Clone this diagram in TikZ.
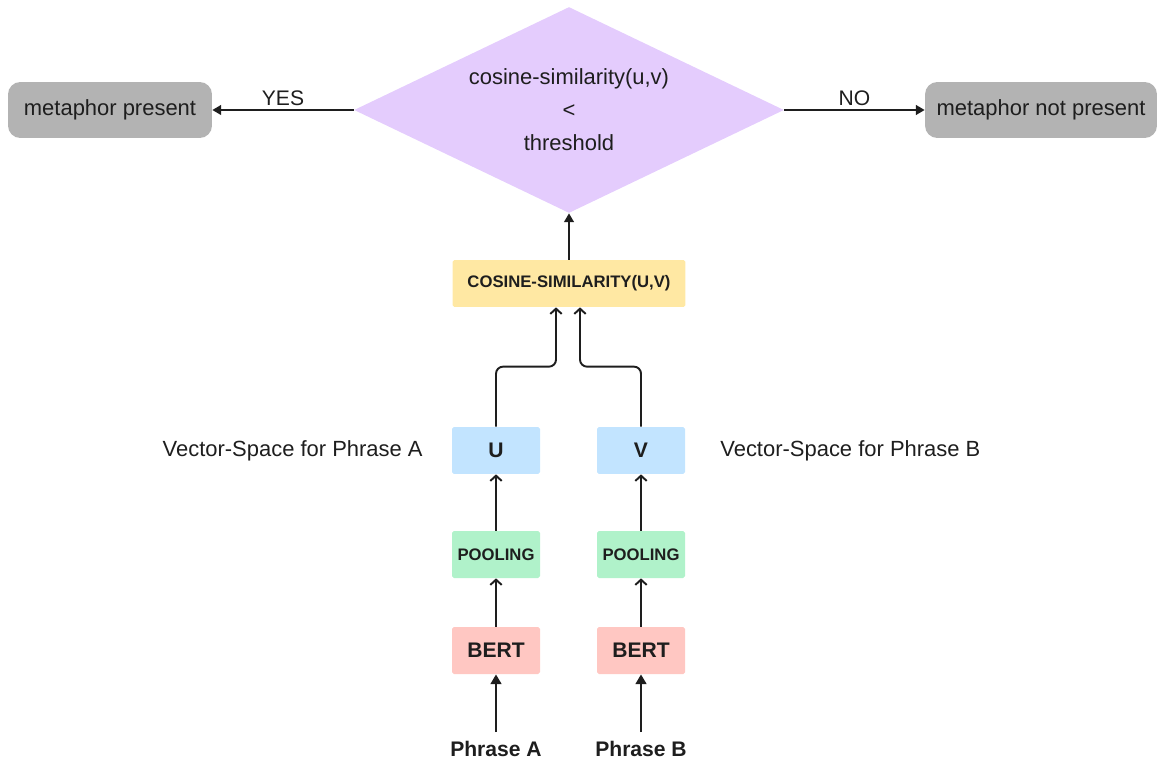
\documentclass[tikz,border=0pt]{standalone}
\usepackage{fontspec}
\setmainfont{Liberation Sans}
\usetikzlibrary{shapes.geometric,arrows.meta,calc}

\definecolor{ink}{HTML}{1E1E1E}
\definecolor{decfill}{HTML}{E4CCFD}
\definecolor{endfill}{HTML}{B3B3B3}
\definecolor{cosfill}{HTML}{FFE8A3}
\definecolor{vecfill}{HTML}{C2E4FF}
\definecolor{poolfill}{HTML}{B0F2CA}
\definecolor{bertfill}{HTML}{FFC7C2}

\tikzset{
  txt/.style={font=\fontsize{12.5}{15}\selectfont, text=ink},
  box/.style={rectangle, rounded corners=1pt, inner sep=0pt, minimum height=0.94cm,
    font=\bfseries\fontsize{9.5}{11}\selectfont, text=ink},
  bigbox/.style={box, font=\bfseries\fontsize{12}{14}\selectfont},
  endbox/.style={rectangle, rounded corners=7pt, fill=endfill, inner sep=0pt,
    minimum height=1.12cm, txt},
  flow/.style={draw=ink, line width=1.1pt, -{Triangle[length=5pt,width=5.5pt]}},
  feed/.style={draw=ink, line width=1.1pt, rounded corners=4pt, -{Straight Barb[length=3pt,width=6.5pt]}},
  input/.style={draw=ink, line width=1.6pt, -{Triangle[length=5.5pt,width=6pt]}}
}

\begin{document}
\begin{tikzpicture}[x=0.02cm, y=-0.02cm]
  \useasboundingbox (0,0) rectangle (1158,763);

  % decision
  \node (dec) [diamond, aspect=2.087, fill=decfill, inner sep=0pt, minimum width=8.6cm, minimum height=4.12cm,
    align=center, txt, font=\fontsize{12.5}{18.7}\selectfont] at (569,110)
    {cosine-similarity(u,v)\\<\\threshold};
  \node (yes) [endbox, minimum width=4.08cm] at (110,110) {metaphor present};
  \node (no) [endbox, minimum width=4.64cm] at (1041,110) {metaphor not present};

  % pipeline
  \node (cos) [box, fill=cosfill, minimum width=4.66cm] at (569,283.5) {COSINE-SIMILARITY(U,V)};
  \node (u) [bigbox, fill=vecfill, minimum width=1.76cm] at (496,450.5) {U};
  \node (v) [bigbox, fill=vecfill, minimum width=1.76cm] at (641,450.5) {V};
  \node (poolA) [box, fill=poolfill, minimum width=1.76cm] at (496,554.5) {POOLING};
  \node (poolB) [box, fill=poolfill, minimum width=1.76cm] at (641,554.5) {POOLING};
  \node (bertA) [bigbox, fill=bertfill, minimum width=1.76cm] at (496,650.5) {BERT};
  \node (bertB) [bigbox, fill=bertfill, minimum width=1.76cm] at (641,650.5) {BERT};
  \node (phraseA) [txt, font=\bfseries\fontsize{12}{14}\selectfont, inner sep=5pt] at (496,749) {Phrase A};
  \node (phraseB) [txt, font=\bfseries\fontsize{12}{14}\selectfont, inner sep=5pt] at (641,749) {Phrase B};

  \node (vsA) [txt, anchor=east, inner sep=0pt] at (423,451) {Vector-Space for Phrase A};
  \node (vsB) [txt, anchor=west, inner sep=0pt] at (720,451) {Vector-Space for Phrase B};

  \coordinate (cu) at ($(cos.south)+(-13,0)$);
  \coordinate (cv) at ($(cos.south)+(11,0)$);

  % connectors
  \draw[flow] (dec.west) -- node[above, inner sep=2pt, txt, font=\fontsize{12}{14}\selectfont] {YES} (yes.east);
  \draw[flow] (dec.east) -- node[above, inner sep=2pt, txt, font=\fontsize{12}{14}\selectfont] {NO} (no.west);
  \draw[flow] (cos.north) -- (dec.south);
  \draw[feed] (u.north) -- ++(0,-60) -| (cu);
  \draw[feed] (v.north) -- ++(0,-60) -| (cv);
  \draw[feed] (poolA.north) -- (u.south);
  \draw[feed] (poolB.north) -- (v.south);
  \draw[feed] (bertA.north) -- (poolA.south);
  \draw[feed] (bertB.north) -- (poolB.south);
  \draw[input] (phraseA.north) -- (bertA.south);
  \draw[input] (phraseB.north) -- (bertB.south);
\end{tikzpicture}
\end{document}
